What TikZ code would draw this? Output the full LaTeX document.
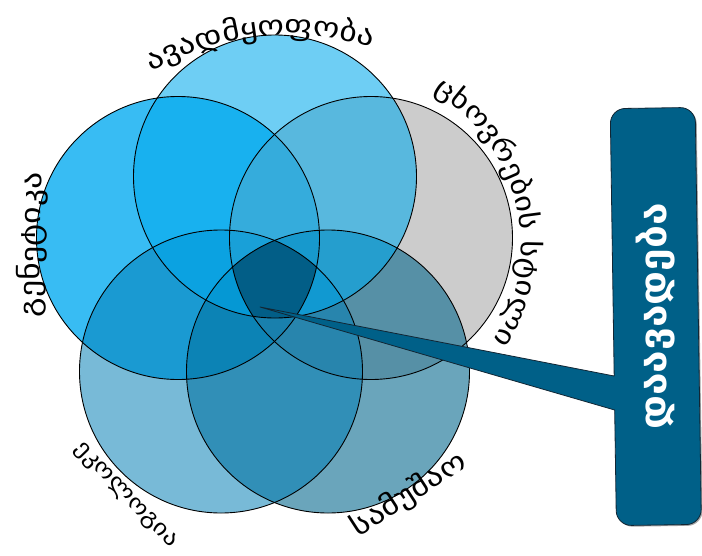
\documentclass[tikz,border=0pt]{standalone}
\usepackage{fontspec}
\usetikzlibrary{decorations.text}
\newfontfamily\geo[FakeStretch=1.2]{DejaVu Sans}
\newfontfamily\geobox[FakeStretch=1.1]{DejaVu Sans}

% circle fills (drawn with partial opacity so overlaps darken)
\definecolor{cTop}{RGB}{0,169,237}
\definecolor{cLeft}{RGB}{0,170,240}
\definecolor{cRight}{RGB}{170,170,170}
\definecolor{cBotR}{RGB}{8,105,142}
\definecolor{cBotL}{RGB}{0,125,181}
\definecolor{cCore}{RGB}{2,94,135}
\definecolor{cCallout}{RGB}{0,96,136}
\definecolor{cCalloutEdge}{RGB}{18,38,52}

\begin{document}
\begin{tikzpicture}[x=1pt,y=-1pt,
  ring/.style={draw=black, line width=0.9pt},
  arclabel/.style={decorate, decoration={text along path, text align=center, text={#1}}},
  calloutshape/.style={fill=cCallout, draw=cCalloutEdge, line width=0.8pt, line join=round},
]
\useasboundingbox (0,0) rectangle (702,555);
\fill[white] (0,0) rectangle (702,555);

% circle centres
\coordinate (cT)  at (275,176.5);
\coordinate (cL)  at (178,238);
\coordinate (cR)  at (371,238);
\coordinate (cBL) at (221,371.5);
\coordinate (cBR) at (328,371.5);
\def\rr{141.5}

% translucent fills, bottom to top
\fill[cLeft,  fill opacity=.78] (cL)  circle[radius=\rr];
\fill[cRight, fill opacity=.60] (cR)  circle[radius=\rr];
\fill[cBotR,  fill opacity=.60] (cBR) circle[radius=\rr];
\fill[cBotL,  fill opacity=.53] (cBL) circle[radius=\rr];
\fill[cTop,   fill opacity=.57] (cT)  circle[radius=\rr];

% common core of all five circles
\begin{scope}
  \clip (cT)  circle[radius=\rr];
  \clip (cL)  circle[radius=\rr];
  \clip (cR)  circle[radius=\rr];
  \clip (cBL) circle[radius=\rr];
  \clip (cBR) circle[radius=\rr];
  \fill[cCore] (0,0) rectangle (702,555);
\end{scope}

% outlines
\foreach \c in {cL,cR,cBR,cBL,cT} \draw[ring] (\c) circle[radius=\rr];

% labels along the rims
\path[arclabel={|\geo\fontsize{28}{30}\selectfont|ავადმყოფობა}]
  (290,316) ++(-132.3:281) arc[start angle=-132.3, end angle=-60.3, radius=281];
\path[arclabel={|\geo\fontsize{27}{29}\selectfont|ცხოვრების სტილი}]
  (343,245) ++(-68.4:178) arc[start angle=-68.4, end angle=41.6, radius=178];
\path[arclabel={|\geo\fontsize{28}{30}\selectfont|გენეტიკა}]
  (39,350) -- (42,140);
\path[arclabel={|\geo\fontsize{22}{24}\selectfont|ეკოლოგია}]
  (66,440) -- (179,557);
\path[arclabel={|\geo\fontsize{28}{30}\selectfont|სამუშაო}]
  (345,546) -- (482,457);

% callout
\coordinate (tip) at (260,307);
\begin{scope}[shift={(655.8,316.5)}, rotate=0.85, y=1pt]
  \fill[black, opacity=.35, shift={(1.3,-1.3)}]
    (-42.5,193.5) arc[start angle=180, end angle=90, radius=15]
    -- (27.5,208.5) arc[start angle=90, end angle=0, radius=15]
    -- (42.5,-193.5) arc[start angle=0, end angle=-90, radius=15]
    -- (-27.5,-208.5) arc[start angle=270, end angle=180, radius=15]
    -- cycle;
  \draw[calloutshape]
    (-42.5,193.5) arc[start angle=180, end angle=90, radius=15]
    -- (27.5,208.5) arc[start angle=90, end angle=0, radius=15]
    -- (42.5,-193.5) arc[start angle=0, end angle=-90, radius=15]
    -- (-27.5,-208.5) arc[start angle=270, end angle=180, radius=15]
    -- (-42.5,-92.9) -- (tip) -- (-42.5,-58.9) -- cycle;
  \node[rotate=90, text=white, font=\geobox\bfseries\fontsize{37}{39}\selectfont]
    (calloutText) at (0,0) {დაავადება};
\end{scope}
\end{tikzpicture}
\end{document}
